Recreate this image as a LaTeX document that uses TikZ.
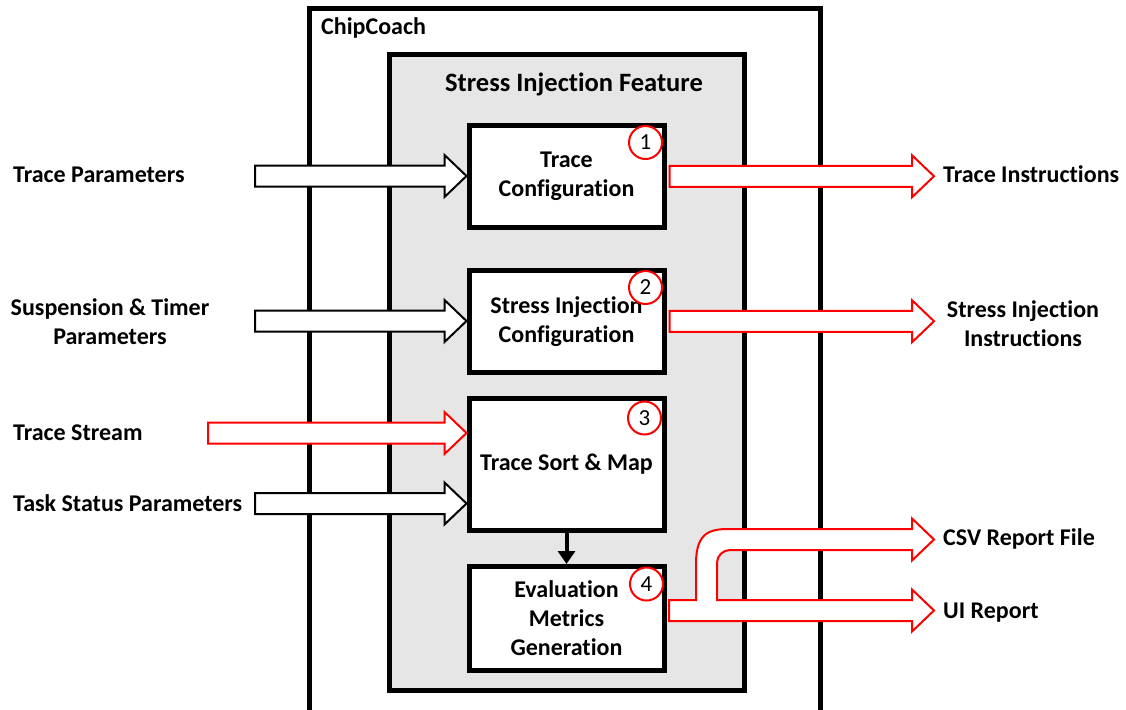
\documentclass[tikz,border=0pt]{standalone}
\usepackage{fontspec}
\setmainfont{Carlito}[Ligatures=NoCommon]
\usetikzlibrary{arrows.meta,calc}

\definecolor{panelgray}{RGB}{230,230,230}
\definecolor{flowred}{RGB}{255,0,0}

% horizontal block arrow: #1 tail point, #2 point whose x is the tip, #3 style
\newcommand\blockarrow[3]{%
  \draw[#3] let \p1=(#1), \p2=(#2) in
    (\x1,\y1-10.5pt) -- (\x2-22pt,\y1-10.5pt) -- (\x2-22pt,\y1-21pt) -- (\x2,\y1)
    -- (\x2-22pt,\y1+21pt) -- (\x2-22pt,\y1+10.5pt) -- (\x1,\y1+10.5pt) -- cycle;}

\begin{document}
\begin{tikzpicture}[x=1pt,y=-1pt,
  lbl/.style={font=\fontsize{24}{29}\selectfont\bfseries, inner sep=0pt},
  frame/.style={draw=black, line width=5pt, inner sep=0pt},
  procbox/.style={frame, fill=white, minimum width=195pt, align=center,
    font=\fontsize{24}{29}\selectfont\bfseries},
  numcirc/.style={draw=flowred, line width=2pt, circle, minimum size=33pt,
    inner sep=0pt, fill=white, font=\fontsize{23}{26}\selectfont},
  inarrow/.style={draw=black, line width=2pt, fill=white, line join=miter},
  redarrow/.style={draw=flowred, line width=2pt, fill=white, line join=miter},
  flow/.style={line width=4pt, -{Triangle[width=17pt,length=13pt]}}]

\useasboundingbox (0,0) rectangle (1126,709);
\fill[white] (0,0) rectangle (1126,709);

% containers
\node[frame, fill=white, minimum width=510.5pt, minimum height=725pt] (cc) at (564.75,371) {};
\node[lbl, anchor=base west] (cctitle) at (321,35) {ChipCoach};
\node[frame, fill=panelgray, minimum width=355pt, minimum height=635.5pt] (sif) at (566.5,372.75) {};
\node[lbl, font=\fontsize{26.5}{32}\selectfont\bfseries, anchor=base] (siftitle) at (574,92) {Stress Injection Feature};

% process blocks
\node[procbox, minimum height=102.5pt] (b1) at (566.5,176.25) {Trace\\Configuration};
\node[procbox, minimum height=102.5pt] (b2) at (566.5,321.25) {Stress Injection\\Configuration};
\node[procbox, minimum height=132pt] (b3) at (566.5,464.5) {Trace Sort \& Map};
\node[procbox, minimum height=104pt] (b4) at (566.5,618.5) {Evaluation\\Metrics\\Generation};

\node[numcirc] (n1) at ($(b1.north east)+(-21,20)$) {1};
\node[numcirc] (n2) at ($(b2.north east)+(-21,20)$) {2};
\node[numcirc] (n3) at ($(b3.north east)+(-22,22)$) {3};
\node[numcirc] (n4) at ($(b4.north east)+(-20,20)$) {4};

\draw[flow] (b3.south) -- (b4.north);

% inputs
\node[lbl, anchor=base west] (tp) at (13,182) {Trace Parameters};
\node[lbl, align=center] (stp) at (110,322) {Suspension \& Timer\\Parameters};
\node[lbl, anchor=base west] (tsr) at (13,440) {Trace Stream};
\node[lbl, anchor=base west] (tsp) at (13,511) {Task Status Parameters};

\coordinate (tpTail) at (255,176);
\coordinate (stpTail) at (255,321);
\coordinate (tsrTail) at (208,433);
\coordinate (tspTail) at (255,503.5);

\blockarrow{tpTail}{b1.west}{inarrow}
\blockarrow{stpTail}{b2.west}{inarrow}
\blockarrow{tsrTail}{b3.west}{redarrow}
\blockarrow{tspTail}{b3.west}{inarrow}

% outputs
\node[lbl, anchor=base west] (ti) at (943,182) {Trace Instructions};
\node[lbl, align=center] (sii) at (1023,324) {Stress Injection\\Instructions};
\node[lbl, anchor=base west] (csv) at (943,545) {CSV Report File};
\node[lbl, anchor=base west] (ui) at (943,618) {UI Report};

\coordinate (tiTip) at (934,176);
\coordinate (siiTip) at (934,321.5);
\coordinate (b1Out) at ($(b1.east)+(3,0)$);
\coordinate (b2Out) at ($(b2.east)+(3,0)$);

\blockarrow{b1Out}{tiTip}{redarrow}
\blockarrow{b2Out}{siiTip}{redarrow}

% report output splitting into two targets
\coordinate (repTail) at (669,610.5);
\coordinate (csvTip) at (934,539.5);
\coordinate (uiTip) at (934,610.5);
\draw[redarrow] let \p1=(repTail), \p2=(csvTip), \p3=(uiTip) in
  (\x1,\y1+10.5pt) -- (696,\y1+10.5pt) -- (696,\y2-24pt)
  .. controls (696,\y2+8.3pt) and (711.2,\y2+10.5pt) .. (730,\y2+10.5pt)
  -- (\x2-22pt,\y2+10.5pt) -- (\x2-22pt,\y2+21pt) -- (\x2,\y2)
  -- (\x2-22pt,\y2-21pt) -- (\x2-22pt,\y2-10.5pt) -- (730,\y2-10.5pt)
  .. controls (722.8,\y2-10.5pt) and (717,\y2-16.3pt) .. (717,\y2-23.5pt)
  -- (717,\y3+10.5pt) -- (\x3-22pt,\y3+10.5pt) -- (\x3-22pt,\y3+21pt) -- (\x3,\y3)
  -- (\x3-22pt,\y3-21pt) -- (\x3-22pt,\y3-10.5pt) -- (\x1,\y3-10.5pt) -- cycle;

\end{tikzpicture}
\end{document}
